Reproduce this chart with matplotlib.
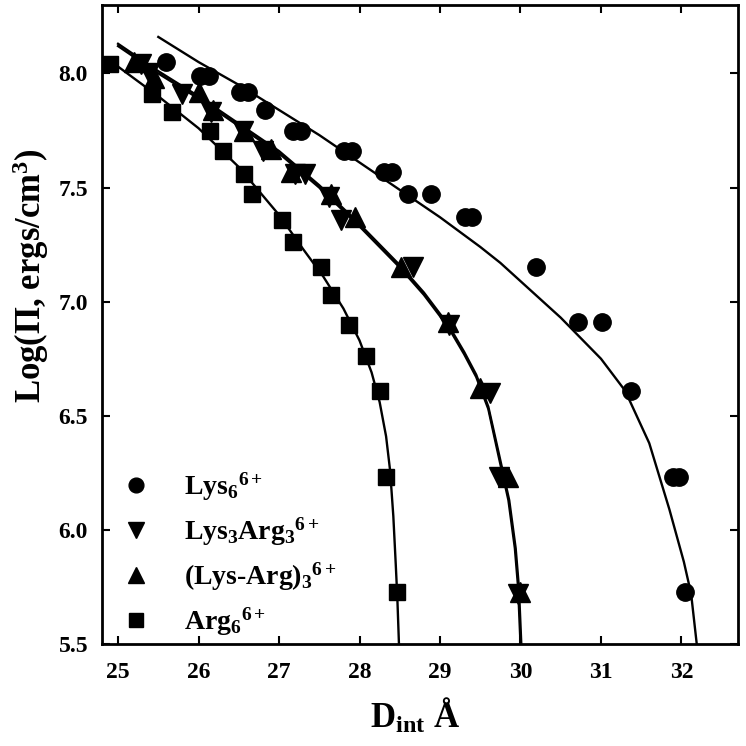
import numpy as np
import matplotlib
matplotlib.use('Agg')
import matplotlib.pyplot as plt

#(0) Data
# Lys6 (circles)
lys_x = [25.59, 26.02, 26.13, 26.51, 26.61, 26.82, 27.17, 27.27, 27.81, 27.91,
         28.30, 28.40, 28.60, 28.89, 29.31, 29.40, 30.19, 30.72, 31.01, 31.37,
         31.89, 31.97, 32.05]
lys_y = [8.05, 7.99, 7.99, 7.92, 7.92, 7.84, 7.75, 7.75, 7.66, 7.66,
         7.57, 7.57, 7.47, 7.47, 7.37, 7.37, 7.15, 6.91, 6.91, 6.61,
         6.23, 6.23, 5.73]
# Lys3Arg3 (down triangles)
ka_x = [25.28, 25.38, 25.79, 26.16, 26.55, 26.80, 27.20, 27.32, 27.62, 27.77,
        28.67, 29.11, 29.62, 29.73, 29.97]
ka_y = [8.04, 8.00, 7.91, 7.83, 7.75, 7.66, 7.56, 7.56, 7.46, 7.36,
        7.15, 6.90, 6.60, 6.23, 5.72]
# (Lys-Arg)3 (up triangles)
kr_x = [25.20, 25.45, 26.00, 26.18, 26.57, 26.90, 27.15, 27.65, 27.95, 28.52,
        29.10, 29.50, 29.85, 30.00]
kr_y = [8.05, 7.98, 7.92, 7.84, 7.75, 7.67, 7.57, 7.47, 7.37, 7.15,
        6.91, 6.62, 6.23, 5.73]
# Arg6 (squares)
arg_x = [24.90, 25.42, 25.67, 26.14, 26.30, 26.56, 26.66, 27.04, 27.17, 27.52,
         27.65, 27.87, 28.08, 28.25, 28.33, 28.46]
arg_y = [8.04, 7.91, 7.83, 7.75, 7.66, 7.56, 7.47, 7.36, 7.26, 7.15,
         7.03, 6.90, 6.76, 6.61, 6.23, 5.73]

# fitted curves
lys_fit_x = [25.5, 26.0, 26.5, 27.0, 27.5, 28.0, 28.5, 29.0, 29.5, 29.75,
             30.0, 30.25, 30.5, 30.75, 31.0, 31.3, 31.6, 31.85, 32.03, 32.12,
             32.19]
lys_fit_y = [8.16, 8.05, 7.95, 7.84, 7.73, 7.61, 7.49, 7.37, 7.24, 7.17,
             7.09, 7.01, 6.93, 6.84, 6.75, 6.61, 6.38, 6.09, 5.86, 5.72,
             5.50]
ka_fit_x = [25.0, 25.5, 26.0, 26.5, 27.0, 27.5, 28.0, 28.5, 28.8, 29.1,
            29.3, 29.45, 29.6, 29.73, 29.85, 29.93, 29.97, 30.0]
ka_fit_y = [8.12, 8.00, 7.89, 7.77, 7.65, 7.50, 7.33, 7.15, 7.03, 6.89,
            6.77, 6.67, 6.53, 6.32, 6.13, 5.92, 5.75, 5.50]
kr_fit_x = [25.0, 25.5, 26.0, 26.5, 27.0, 27.5, 28.0, 28.5, 28.8, 29.1,
            29.3, 29.45, 29.6, 29.74, 29.86, 29.94, 29.98, 30.01]
kr_fit_y = [8.13, 8.01, 7.90, 7.78, 7.66, 7.51, 7.34, 7.16, 7.04, 6.90,
            6.78, 6.68, 6.54, 6.32, 6.13, 5.92, 5.75, 5.50]
arg_fit_x = [25.0, 25.5, 26.0, 26.5, 27.0, 27.3, 27.55, 27.8, 28.0, 28.15,
             28.25, 28.33, 28.38, 28.42, 28.45, 28.47, 28.49]
arg_fit_y = [8.03, 7.90, 7.76, 7.59, 7.38, 7.23, 7.11, 6.97, 6.83, 6.69,
             6.56, 6.41, 6.26, 6.06, 5.85, 5.70, 5.50]

labels = [r'$\mathrm{Lys}_6{}^{6+}$', r'$\mathrm{Lys}_3\mathrm{Arg}_3{}^{6+}$',
          r'$\mathrm{(Lys}$-$\mathrm{Arg)}_3{}^{6+}$', r'$\mathrm{Arg}_6{}^{6+}$']
xticks = [25, 26, 27, 28, 29, 30, 31, 32]
yticks = [5.5, 6.0, 6.5, 7.0, 7.5, 8.0]

#(1) Style
plt.rcParams['font.family'] = ['Liberation Serif', 'DejaVu Serif']
plt.rcParams['font.weight'] = 'bold'
plt.rcParams['mathtext.fontset'] = 'custom'
plt.rcParams['mathtext.rm'] = 'Liberation Serif:bold'
plt.rcParams['mathtext.it'] = 'Liberation Serif:bold'
plt.rcParams['mathtext.bf'] = 'Liberation Serif:bold'

#(2) Plot
fig = plt.figure(figsize=(7.46, 7.46), dpi=100)
ax = fig.add_axes([0.1367, 0.1367, 0.8523, 0.8566])

ms_c, ms_t, ms_s = 12.5, 14, 11.5
h1, = ax.plot(lys_x, lys_y, 'ko', ms=ms_c, ls='none')
h2, = ax.plot(ka_x, ka_y, 'kv', ms=ms_t, ls='none')
h3, = ax.plot(kr_x, kr_y, 'k^', ms=ms_t, ls='none')
h4, = ax.plot(arg_x, arg_y, 'ks', ms=ms_s, ls='none')
for fx, fy in [(lys_fit_x, lys_fit_y), (ka_fit_x, ka_fit_y),
               (kr_fit_x, kr_fit_y), (arg_fit_x, arg_fit_y)]:
    ax.plot(fx, fy, 'k-', lw=1.7)

ax.set_xlim(24.8, 32.7)
ax.set_ylim(5.5, 8.3)
ax.set_xticks(xticks)
ax.set_yticks(yticks)
ax.set_yticklabels(['%.1f' % v for v in yticks])
ax.tick_params(direction='in', length=6, width=1.5, labelsize=17,
               top=True, right=True, pad=10)
ax.tick_params(axis='x', pad=13)
for sp in ax.spines.values():
    sp.set_linewidth(2)

ax.set_xlabel(r'$\mathrm{D}_{\mathrm{int}}$ Å', fontsize=25, fontweight='bold')
ax.set_ylabel(r'Log(Π, ergs/cm$^3$)', fontsize=25, fontweight='bold')
ax.xaxis.set_label_coords(0.492, -0.083)
ax.yaxis.set_label_coords(-0.08, 0.576)

leg = ax.legend([h1, h2, h3, h4], labels, loc='lower left',
                bbox_to_anchor=(0.0137, -0.008), frameon=False, fontsize=20,
                handlelength=1.0, handletextpad=1.25, labelspacing=0.45,
                borderaxespad=0.0, markerscale=0.85)

fig.savefig('out.png', dpi=100)
